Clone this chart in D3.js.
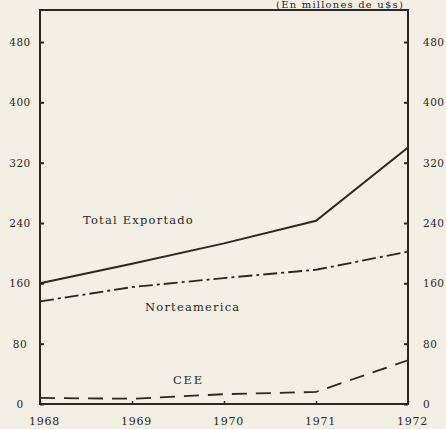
<!DOCTYPE html>
<html>
<head>
<meta charset="utf-8">
<script src="https://cdn.jsdelivr.net/npm/d3@7"></script>
<style>
  body { margin: 0; background: #f3efe4; }
  svg { display: block; }
  text { font-family: "DejaVu Serif", "Liberation Serif", serif; fill: #2b2824; }
</style>
</head>
<body>
<div id="chart"></div>
<script>
// data (millions of US$)
var years = [1968, 1969, 1970, 1971, 1972];
var totalExportado = [160, 186, 213, 243, 340];
var norteamerica = [136, 155, 167, 178, 202];
var cee = [8, 7, 13, 16, 58];
var yTicks = [0, 80, 160, 240, 320, 400, 480];

var svgWidth = 446, svgHeight = 429;
var ink = "#2b2824";

var svg = d3.select("#chart")
    .append("svg")
    .attr("width", svgWidth)
    .attr("height", svgHeight);

svg.append("rect").attr("width", svgWidth).attr("height", svgHeight).attr("fill", "#f3efe4");

// plot box
var box = { left: 40, right: 408, top: 10, bottom: 404 };

var xScale = d3.scaleLinear().domain([1968, 1972]).range([box.left, box.right]);
var yScale = d3.scaleLinear().domain([0, 480]).range([box.bottom, 42]);

// frame
svg.append("path")
    .attr("d", `M${box.left},${box.bottom} L${box.left},${box.top} L${box.right},${box.top} L${box.right},${box.bottom} Z`)
    .attr("fill", "none")
    .attr("stroke", ink)
    .attr("stroke-width", 2);

// left axis, ticks pointing inward
var yAxisL = svg.append("g")
    .attr("transform", `translate(${box.left},0)`)
    .call(d3.axisLeft(yScale).tickValues(yTicks).tickSize(-4).tickFormat(d3.format("d")));
yAxisL.select(".domain").remove();
yAxisL.selectAll("line").attr("stroke", ink).attr("stroke-width", 2);
yAxisL.selectAll("text")
    .attr("x", -20).attr("text-anchor", "middle")
    .style("font-size", "10.5px").style("letter-spacing", "0.5px");

// right axis
var yAxisR = svg.append("g")
    .attr("transform", `translate(${box.right},0)`)
    .call(d3.axisRight(yScale).tickValues(yTicks).tickSize(-4).tickFormat(d3.format("d")));
yAxisR.select(".domain").remove();
yAxisR.selectAll("line").attr("stroke", ink).attr("stroke-width", 2);
yAxisR.selectAll("text")
    .attr("x", 15).attr("text-anchor", "start")
    .style("font-size", "10.5px").style("letter-spacing", "0.5px");

// bottom axis
var xAxis = svg.append("g")
    .attr("transform", `translate(0,${box.bottom})`)
    .call(d3.axisBottom(xScale).tickValues(years).tickSize(-3).tickFormat(d3.format("d")));
xAxis.select(".domain").remove();
xAxis.selectAll("line").attr("stroke", ink).attr("stroke-width", 1.5);
xAxis.selectAll("text")
    .attr("y", 21).attr("dy", 0).attr("dx", 4)
    .style("font-size", "11px").style("letter-spacing", "0.8px");

// lines
var line = d3.line()
    .x((d, i) => xScale(years[i]))
    .y(d => yScale(d));

svg.append("path").datum(totalExportado)
    .attr("d", line).attr("fill", "none")
    .attr("stroke", ink).attr("stroke-width", 2);

svg.append("path").datum(norteamerica)
    .attr("d", line).attr("fill", "none")
    .attr("stroke", ink).attr("stroke-width", 1.8)
    .attr("stroke-dasharray", "14,4,3,4");

svg.append("path").datum(cee)
    .attr("d", line).attr("fill", "none")
    .attr("stroke", ink).attr("stroke-width", 1.8)
    .attr("stroke-dasharray", "15,9");

// series labels
svg.append("text").attr("x", 83).attr("y", 224).text("Total Exportado")
    .style("font-size", "11.5px").style("letter-spacing", "1.2px");
svg.append("text").attr("x", 145).attr("y", 311).text("Norteamerica")
    .style("font-size", "11.5px").style("letter-spacing", "1.2px");
svg.append("text").attr("x", 173).attr("y", 384).text("CEE")
    .style("font-size", "11.5px").style("letter-spacing", "1.8px");

// units note above the frame
svg.append("text").attr("x", 404).attr("y", 8).attr("text-anchor", "end")
    .text("(En millones de u$s)")
    .style("font-size", "10px").style("letter-spacing", "1.2px");
</script>
</body>
</html>
